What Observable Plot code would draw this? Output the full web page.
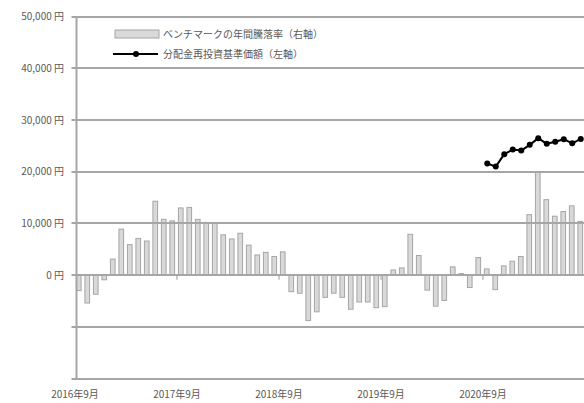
<!DOCTYPE html>
<html>
<head>
<meta charset="utf-8">
<script src="https://cdn.jsdelivr.net/npm/d3@7"></script>
<script src="https://cdn.jsdelivr.net/npm/@observablehq/plot@0.6"></script>
<style>
  html, body { margin: 0; padding: 0; background: #fff; }
  svg { display: block; }
</style>
</head>
<body>
<div id="chart"></div>
<script>
// Categories: monthly, Sep 2016 – Aug 2021
const months = d3.utcMonths(new Date(Date.UTC(2016, 8, 1)), new Date(Date.UTC(2021, 8, 1)))
  .map(d => d3.utcFormat("%Y-%m")(d));

// Benchmark annual return (%) – right axis
const benchReturn = [
  -3.0, -5.4, -3.7, -0.9, 3.1, 8.9, 5.9, 7.1, 6.6, 14.3, 10.8, 10.5,
  13.0, 13.1, 10.8, 10.2, 10.0, 7.8, 7.0, 8.1, 5.8, 3.9, 4.4, 3.6,
  4.5, -3.2, -3.5, -8.8, -7.1, -4.3, -3.5, -4.3, -6.6, -5.2, -5.2, -6.3,
  -6.1, 1.0, 1.4, 7.9, 3.8, -2.9, -6.0, -4.9, 1.6, 0.3, -2.4, 3.4,
  1.2, -2.8, 1.8, 2.7, 3.6, 11.7, 20.0, 14.6, 11.4, 12.3, 13.4, 10.4
];

// NAV with dividends reinvested (円) – left axis, from Sep 2020
const navStart = "2020-09";
const navValues = [21700, 21100, 23500, 24400, 24200, 25300, 26600, 25500, 25900, 26400, 25600, 26450];

// Axis ticks & labels
const yTicks = [-20000, -10000, 0, 10000, 20000, 30000, 40000, 50000];
const xLabelMonths = ["2016-09", "2017-09", "2018-09", "2019-09", "2020-09"];
const xLabels = ["2016年9月", "2017年9月", "2018年9月", "2019年9月", "2020年9月"];
const xTickMonths = ["2017-09", "2018-09", "2019-09", "2020-09"];

const legendBar = "ベンチマークの年間騰落率（右軸）";
const legendLine = "分配金再投資基準価額（左軸）";

// Right axis (%) maps onto left axis: -20%..50% <-> -20,000..50,000 円
const pctToYen = p => p * 1000;

const barData = months.map((m, i) => ({month: m, y: pctToYen(benchReturn[i])}));
const i0 = months.indexOf(navStart);
const navData = navValues.map((v, i) => ({month: months[i0 + i], nav: v}));

const gray = "#a6a6a6";
const textColor = "#595959";
const font = "'Noto Sans CJK JP', 'Noto Sans', sans-serif";
const step = 8.5;
const mLeft = 76.5;
const W = 584;

const chart = Plot.plot({
  width: W,
  height: 403,
  marginLeft: mLeft,
  marginRight: 0,
  marginTop: 16.7,
  marginBottom: 24.5,
  style: {fontFamily: font, fontSize: "10px", color: textColor, background: "#fff"},
  x: {type: "band", domain: months, range: [74.5, 74.5 + step * months.length], paddingInner: 0.45, paddingOuter: 0.225, align: 0.5, round: false},
  y: {domain: [-20000, 50000]},
  marks: [
    Plot.barY(barData, {x: "month", y: "y", fill: "#d9d9d9", stroke: gray, strokeWidth: 1}),
    Plot.ruleX(xTickMonths, {x: d => d, y1: 0, y2: -900, dx: -step / 2, stroke: gray, strokeWidth: 1.2}),
    Plot.axisY({
      ticks: yTicks,
      tickSize: 0,
      tickPadding: 13,
      fill: textColor,
      fontSize: 10,
      tickFormat: d => d >= 0 ? d3.format(",")(d) + " 円" : "",
      label: null
    }),
    Plot.axisX({
      ticks: xLabelMonths,
      tickSize: 0,
      tickPadding: 12,
      dx: -step / 2,
      fill: textColor,
      fontSize: 10,
      tickFormat: d => xLabels[xLabelMonths.indexOf(d)],
      label: null
    }),
    Plot.line(navData, {x: "month", y: "nav", stroke: "#000", strokeWidth: 2}),
    Plot.dot(navData, {x: "month", y: "nav", r: 3, fill: "#000", stroke: "none"})
  ]
});

const svg = d3.select(chart);
const yS = chart.scale("y");

// Horizontal gridlines (with short outward ticks) as thin rects, positioned by the Plot y scale
const grid = svg.append("g").attr("aria-label", "gridlines");
grid.selectAll("rect").data(yTicks).join("rect")
  .attr("x", mLeft - 5).attr("width", W - (mLeft - 5))
  .attr("y", d => Math.round(yS.apply(d)) - 1).attr("height", 2)
  .attr("fill", gray);

// Vertical (left) axis line
svg.append("rect")
  .attr("x", mLeft - 1).attr("width", 2)
  .attr("y", Math.round(yS.apply(50000)) - 1)
  .attr("height", Math.round(yS.apply(-20000)) - Math.round(yS.apply(50000)) + 2)
  .attr("fill", gray);

// Keep the NAV line and dots above the gridlines
svg.selectAll("g[aria-label=line], g[aria-label=dot]").raise();

// Legend inside the plot area
const lg = svg.append("g").attr("font-family", font).attr("font-size", 10)
  .attr("fill", textColor).attr("text-anchor", "start");
lg.append("rect").attr("x", 115).attr("y", 30).attr("width", 44).attr("height", 8)
  .attr("fill", "#d9d9d9").attr("stroke", gray);
lg.append("text").attr("x", 163).attr("y", 34).attr("dy", "0.35em").text(legendBar);
lg.append("line").attr("x1", 113).attr("x2", 158).attr("y1", 54).attr("y2", 54)
  .attr("stroke", "#000").attr("stroke-width", 2);
lg.append("circle").attr("cx", 136).attr("cy", 54).attr("r", 3).attr("fill", "#000");
lg.append("text").attr("x", 163).attr("y", 54).attr("dy", "0.35em").text(legendLine);

document.getElementById("chart").appendChild(chart);
</script>
</body>
</html>
